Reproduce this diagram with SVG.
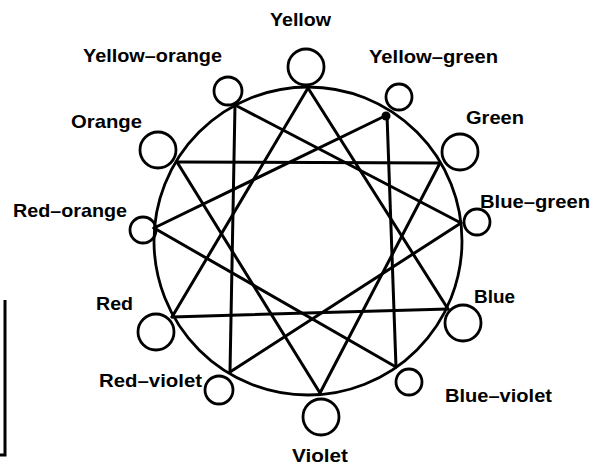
<svg xmlns="http://www.w3.org/2000/svg" width="595" height="469" viewBox="0 0 595 469">
<style>
.ring{fill:none;stroke:#000;stroke-width:2.8}
.node circle{fill:none;stroke:#000;stroke-width:2.8}
.lines line{stroke:#000;stroke-width:3;stroke-linecap:round}
text{font-family:"Liberation Sans","DejaVu Sans",sans-serif;font-size:18.5px;fill:#000;font-weight:bold;letter-spacing:0}
</style>
<rect width="595" height="469" fill="#fff"/>
<path d="M0,455 H5 V300" fill="none" stroke="#000" stroke-width="3"/>
<circle class="ring" cx="308" cy="241" r="154"/>
<g id="connectors" class="lines">
<line x1="308" y1="88" x2="172" y2="317"/>
<line x1="308" y1="88" x2="448" y2="309"/>
<line x1="172" y1="317" x2="448" y2="309"/>
<line x1="177" y1="162" x2="440" y2="163"/>
<line x1="177" y1="162" x2="320" y2="393"/>
<line x1="440" y1="163" x2="320" y2="393"/>
<line x1="235" y1="105" x2="230" y2="372"/>
<line x1="235" y1="105" x2="461" y2="223"/>
<line x1="461" y1="223" x2="230" y2="372"/>
<line x1="387" y1="115" x2="396" y2="367"/>
<line x1="387" y1="115" x2="154" y2="228"/>
<line x1="154" y1="228" x2="396" y2="367"/>
<circle cx="386" cy="116" r="4.5" fill="#000"/>
</g>
<g id="yellow" class="node"><circle cx="306" cy="67" r="18"/><text x="270" y="26" textLength="61" lengthAdjust="spacingAndGlyphs">Yellow</text></g>
<g id="yellow-green" class="node"><circle cx="399" cy="97" r="13"/><text x="369" y="63" textLength="129" lengthAdjust="spacingAndGlyphs">Yellow–green</text></g>
<g id="green" class="node"><circle cx="460" cy="152" r="18"/><text x="466" y="124" textLength="58" lengthAdjust="spacingAndGlyphs">Green</text></g>
<g id="blue-green" class="node"><circle cx="477" cy="222" r="13"/><text x="480" y="208" textLength="110" lengthAdjust="spacingAndGlyphs">Blue–green</text></g>
<g id="blue" class="node"><circle cx="463" cy="323" r="18"/><text x="474" y="303" textLength="41" lengthAdjust="spacingAndGlyphs">Blue</text></g>
<g id="blue-violet" class="node"><circle cx="409" cy="382" r="13"/><text x="445" y="402" textLength="107" lengthAdjust="spacingAndGlyphs">Blue–violet</text></g>
<g id="violet" class="node"><circle cx="321" cy="417" r="18"/><text x="292" y="462" textLength="56" lengthAdjust="spacingAndGlyphs">Violet</text></g>
<g id="red-violet" class="node"><circle cx="219" cy="390" r="14"/><text x="99" y="387" textLength="103" lengthAdjust="spacingAndGlyphs">Red–violet</text></g>
<g id="red" class="node"><circle cx="156" cy="332" r="18"/><text x="96" y="310" textLength="37" lengthAdjust="spacingAndGlyphs">Red</text></g>
<g id="red-orange" class="node"><circle cx="143" cy="230" r="13"/><text x="13" y="217" textLength="114" lengthAdjust="spacingAndGlyphs">Red–orange</text></g>
<g id="orange" class="node"><circle cx="158" cy="150" r="18"/><text x="71" y="128" textLength="71" lengthAdjust="spacingAndGlyphs">Orange</text></g>
<g id="yellow-orange" class="node"><circle cx="228" cy="91" r="14"/><text x="83" y="62" textLength="139" lengthAdjust="spacingAndGlyphs">Yellow–orange</text></g>
</svg>
